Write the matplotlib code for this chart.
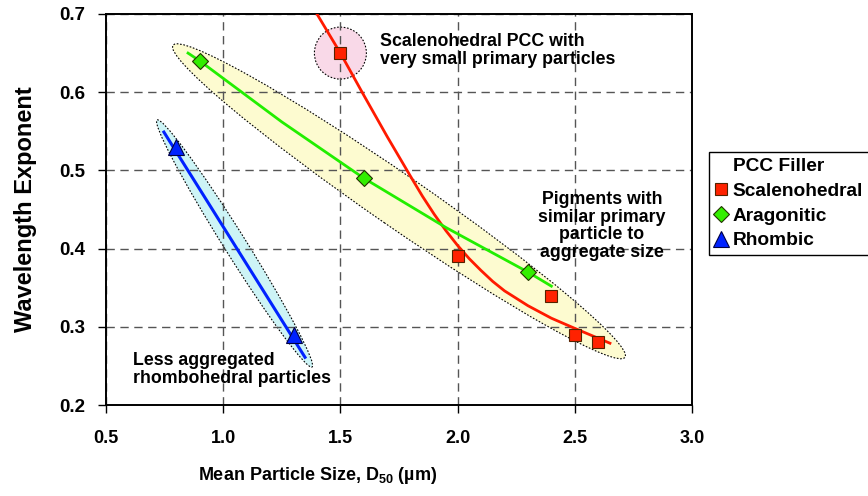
import numpy as np
import matplotlib
matplotlib.use("Agg")
import matplotlib.pyplot as plt
from matplotlib.patches import Ellipse
from matplotlib.transforms import IdentityTransform
from matplotlib.lines import Line2D

plt.rcParams['font.family'] = ['Liberation Sans', 'DejaVu Sans']
plt.rcParams['font.weight'] = 'bold'
plt.rcParams['mathtext.fontset'] = 'custom'
plt.rcParams['mathtext.bf'] = 'Liberation Sans:bold'
plt.rcParams['mathtext.rm'] = 'Liberation Sans:bold'

# ---- data ----
scal_x = [1.5, 2.0, 2.4, 2.5, 2.6]
scal_y = [0.65, 0.39, 0.34, 0.29, 0.28]
arag_x = [0.9, 1.6, 2.3]
arag_y = [0.64, 0.49, 0.37]
rhom_x = [0.8, 1.3]
rhom_y = [0.53, 0.29]

# trend curves
scal_fit_x = [1.40, 1.50, 1.60, 1.70, 1.80, 1.85, 1.90, 1.95, 2.00, 2.05, 2.10, 2.15,
              2.20, 2.30, 2.40, 2.50, 2.65]
scal_fit_y = [0.700, 0.650, 0.596, 0.543, 0.492, 0.467, 0.444, 0.423, 0.404, 0.387,
              0.372, 0.358, 0.346, 0.327, 0.311, 0.298, 0.279]
arag_fit_x = [0.85, 0.90, 1.25, 1.60, 1.95, 2.30, 2.40]
arag_fit_y = [0.650, 0.640, 0.562, 0.490, 0.427, 0.370, 0.352]
rhom_fit_x = [0.747, 1.349]
rhom_fit_y = [0.549, 0.261]

x_ticks = [0.5, 1.0, 1.5, 2.0, 2.5, 3.0]
y_ticks = [0.2, 0.3, 0.4, 0.5, 0.6, 0.7]

# ---- figure ----
W, H = 868, 496
fig = plt.figure(figsize=(W / 100, H / 100), dpi=100)
ax = fig.add_axes([106 / W, 1 - 405 / H, (692 - 106) / W, (405 - 14) / H])
ax.set_xlim(0.5, 3.0)
ax.set_ylim(0.2, 0.7)
ax.set_xticks(x_ticks)
ax.set_yticks(y_ticks)
ax.set_xticklabels([f"{v:.1f}" for v in x_ticks], fontsize=13, fontweight='bold')
ax.set_yticklabels([f"{v:.1f}" for v in y_ticks], fontsize=13.5, fontweight='bold')
ax.tick_params(axis='x', length=6, width=1, pad=12, direction='out')
ax.tick_params(axis='y', length=6, width=1, pad=9, direction='out')
for s in ax.spines.values():
    s.set_linewidth(1.4)
    s.set_color('black')
ax.set_axisbelow(True)
ax.grid(True, color='#555555', linestyle=(0, (6, 4)), linewidth=1.0)

# ---- ellipses (defined by data-space tips, pixel widths) ----
def tip_ellipse(x1, y1, x2, y2, width_px, face, z=0.3):
    p1 = ax.transData.transform((x1, y1))
    p2 = ax.transData.transform((x2, y2))
    c = (p1 + p2) / 2
    d = p2 - p1
    length = np.hypot(*d)
    ang = np.degrees(np.arctan2(d[1], d[0]))
    e = Ellipse(c, length, width_px, angle=ang, transform=IdentityTransform(),
                facecolor=face, edgecolor='black', linestyle=(0, (1.5, 1.5)),
                linewidth=0.8, zorder=z)
    ax.add_artist(e)

tip_ellipse(0.786, 0.660, 2.714, 0.261, 52, '#fdfbd0')
tip_ellipse(0.718, 0.5645, 1.379, 0.2486, 22, '#cdf4f6')
# pink circle around the small-particle point
c = ax.transData.transform((1.5, 0.65))
ax.add_artist(Ellipse(c, 52, 52, transform=IdentityTransform(), facecolor='#f9d9e8',
                      edgecolor='black', linestyle=(0, (1.5, 1.5)), linewidth=0.8, zorder=0.3))

# ---- lines ----
ax.plot(scal_fit_x, scal_fit_y, color='#ff1a00', lw=2.0, zorder=3, solid_joinstyle='round')
ax.plot(arag_fit_x, arag_fit_y, color='#22ee00', lw=2.0, zorder=3, solid_joinstyle='round')
ax.plot(rhom_fit_x, rhom_fit_y, color='#0022ff', lw=2.2, zorder=3)

# ---- markers ----
ax.plot(scal_x, scal_y, 's', ms=9, mfc='#ff2200', mec='#552200', mew=0.8, ls='none', zorder=4)
ax.plot(arag_x, arag_y, 'D', ms=8, mfc='#33ee00', mec='#223300', mew=0.8, ls='none', zorder=4)
ax.plot(rhom_x, rhom_y, '^', ms=11, mfc='#0022ff', mec='#000044', mew=0.8, ls='none', zorder=4)

# ---- annotations ----
ax.text(1.669, 0.653, "Scalenohedral PCC with\nvery small primary particles",
        fontsize=12.8, fontweight='bold', ha='left', va='center', linespacing=1.05, zorder=5)
ax.text(2.616, 0.429, "Pigments with\nsimilar primary\nparticle to\naggregate size",
        fontsize=12.8, fontweight='bold', ha='center', va='center', linespacing=1.05, zorder=5)
ax.text(0.615, 0.245, "Less aggregated\nrhombohedral particles",
        fontsize=12.8, fontweight='bold', ha='left', va='center', linespacing=1.05, zorder=5)

# ---- axis labels ----
fig.text(26 / W, 1 - 209 / H, "Wavelength Exponent", rotation=90, fontsize=17,
         fontweight='bold', ha='center', va='center')
fig.text(318 / W, 1 - 475 / H, "Mean Particle Size, D$_{\\mathbf{50}}$ (µm)", fontsize=13,
         fontweight='bold', ha='center', va='center')

# ---- legend ----
handles = [
    Line2D([], [], ls='none', marker=None),
    Line2D([], [], ls='none', marker='s', ms=9, mfc='#ff2200', mec='#552200', mew=0.8),
    Line2D([], [], ls='none', marker='D', ms=8, mfc='#33ee00', mec='#223300', mew=0.8),
    Line2D([], [], ls='none', marker='^', ms=11, mfc='#0022ff', mec='#000044', mew=0.8),
]
labels = ["PCC Filler", "Scalenohedral", "Aragonitic", "Rhombic"]
leg = fig.legend(handles, labels, loc='upper left', bbox_to_anchor=(709 / W, 1 - 152 / H),
                 bbox_transform=fig.transFigure, frameon=True, fancybox=False,
                 edgecolor='black', framealpha=1, handlelength=0.7, handletextpad=0.25,
                 borderpad=0.3, labelspacing=0.38, borderaxespad=0,
                 prop={'weight': 'bold', 'size': 13.8})
leg.get_frame().set_linewidth(1.0)

fig.savefig("out.png", dpi=100)
